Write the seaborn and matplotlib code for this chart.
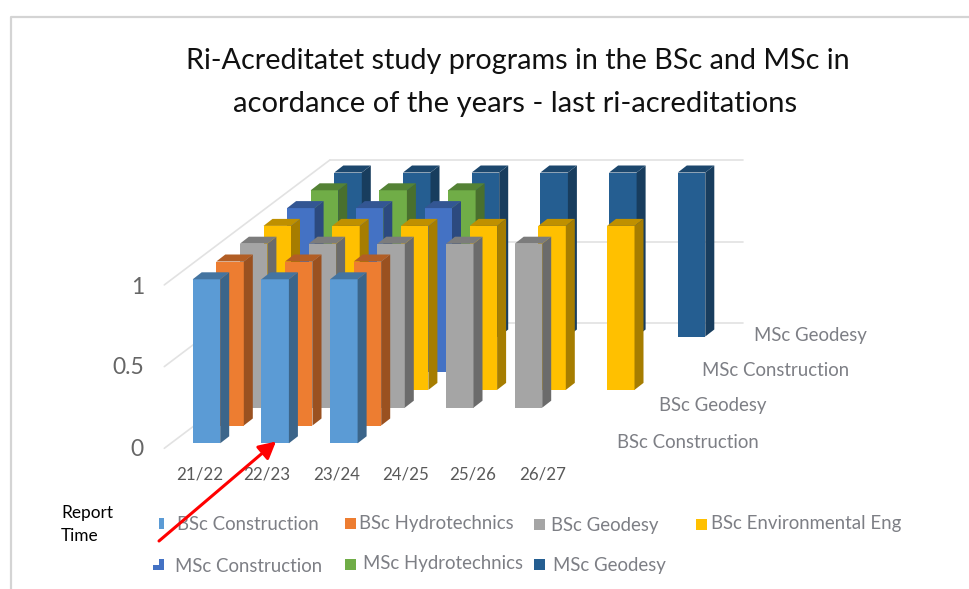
import numpy as np
import pandas as pd
import matplotlib
matplotlib.use('Agg')
import matplotlib.pyplot as plt
import seaborn as sns

# Data
years = ['21/22', '22/23', '23/24', '24/25', '25/26', '26/27']
bsc_construction = [1, 1, 1, 0, 0, 0]
bsc_hydrotechnics = [1, 1, 1, 0, 0, 0]
bsc_geodesy = [1, 1, 1, 1, 1, 0]
bsc_environmental = [1, 1, 1, 1, 1, 1]
msc_construction = [1, 1, 1, 0, 0, 0]
msc_hydrotechnics = [1, 1, 1, 0, 0, 0]
msc_geodesy = [1, 1, 1, 1, 1, 1]

series_names = ['BSc Construction', 'BSc Hydrotechnics', 'BSc Geodesy', 'BSc Environmental Eng',
                'MSc Construction', 'MSc Hydrotechnics', 'MSc Geodesy']
series_values = [bsc_construction, bsc_hydrotechnics, bsc_geodesy, bsc_environmental,
                 msc_construction, msc_hydrotechnics, msc_geodesy]
colors = ['#5B9BD5', '#ED7D31', '#A5A5A5', '#FFC000', '#4472C4', '#70AD47', '#255E91']
value_ticks = [0, 0.5, 1]

# Layout in picture pixels
W, H = 970, 589
year_step = 68.7
bar_px = 27.5
bar_height = 164
depth_dx, depth_dy = 23.6, 17.8
side_dx, side_dy = 9, 7
grey_text = '#7d7f85'

sns.set_theme(style='white')
plt.rcParams['font.family'] = ['Lato', 'DejaVu Sans']

fig = plt.figure(figsize=(W / 100, H / 100), dpi=100)


def px_axes(left, top, right, bottom):
    return fig.add_axes([left / W, 1 - bottom / H, (right - left) / W, (bottom - top) / H])


def overlay(zorder):
    o = fig.add_axes([0, 0, 1, 1], zorder=zorder)
    o.set_xlim(0, W)
    o.set_ylim(H, 0)
    o.axis('off')
    return o


# Side wall edge, behind the bars
under = overlay(-1)
for v in value_ticks:
    y_wall = 323.3 - v * 163.4
    under.plot([330, 164.3], [y_wall, y_wall + 125], color='#e2e2e2', lw=1.2)

# Back wall with gridlines
wall = px_axes(330, 160, 743, 323.3)
wall.set_xlim(0, 1)
wall.set_ylim(0, 1)
wall.set_yticks(value_ticks)
wall.set_xticks([])
wall.set_yticklabels([])
wall.grid(axis='y', color='#e2e2e2', lw=1.2, clip_on=False)
wall.tick_params(left=False)
sns.despine(ax=wall, left=True, bottom=True)
wall.patch.set_alpha(0)

# One transparent axes per series, moved back along the depth direction
for i in reversed(range(len(series_names))):
    left = 192.7 + bar_px / 2 - year_step / 2 + i * depth_dx
    bottom = 443.3 - i * depth_dy
    ax = px_axes(left, bottom - bar_height, left + 6 * year_step, bottom)
    df = pd.DataFrame({'year': years, 'value': series_values[i]})
    sns.barplot(data=df, x='year', y='value', order=years, color=colors[i], saturation=1,
                width=bar_px / year_step, linewidth=0, ax=ax)
    rgb = np.array(matplotlib.colors.to_rgb(colors[i]))
    dx = side_dx / year_step
    dy = side_dy / bar_height
    for bar in list(ax.patches):
        h = bar.get_height()
        if h <= 0:
            continue
        x0 = bar.get_x()
        x1 = x0 + bar.get_width()
        ax.fill([x1, x1 + dx, x1 + dx, x1], [0, dy, h + dy, h], color=rgb * 0.65, lw=0, clip_on=False)
        ax.fill([x0, x1, x1 + dx, x0 + dx], [h, h, h + dy, h + dy], color=rgb * 0.75, lw=0, clip_on=False)
    ax.set_xlim(-0.5, 5.5)
    ax.set_ylim(0, 1)
    ax.axis('off')

# Overlay in pixels for texts, frame, arrow and legend
over = overlay(10)

over.plot([11, 11, W], [H, 17, 17], color='#d4d4d4', lw=1.6)

over.text(518, 61, 'Ri-Acreditatet study programs in the BSc and MSc in', fontsize=20.7,
          color='#111111', ha='center', va='center')
over.text(515, 104, 'acordance of the years - last ri-acreditations', fontsize=21,
          color='#111111', ha='center', va='center')

for v, y in zip(value_ticks, [450, 367, 287]):
    over.text(144, y, f'{v:g}', fontsize=16.5, color='#666666', ha='right', va='center')

year_centers = [200, 267, 337, 406, 473, 543]
for label, x in zip(years, year_centers):
    over.text(x, 474, label, fontsize=12.2, color='#595959', ha='center', va='center')

depth_labels = ['BSc Construction', 'BSc Geodesy', 'MSc Construction', 'MSc Geodesy']
depth_x = [617, 659, 702, 754]
depth_y = [442, 405, 370, 335]
for label, x, y in zip(depth_labels, depth_x, depth_y):
    over.text(x, y, label, fontsize=13.4, color=grey_text, ha='left', va='center')

over.text(61, 513, 'Report', fontsize=12.4, color='black', va='center')
over.text(61, 536, 'Time', fontsize=12.4, color='black', va='center')

# Legend entries sit in uneven places in the original
legend_box = [(159, 518, 5.5), (345, 518, 11), (534, 519, 11), (696, 519, 11),
              (153, 559, 11), (345, 559, 11), (534, 559, 11)]
legend_text = [(177, 525), (359, 524), (551, 525), (711, 524), (175, 567), (363, 564), (553, 566)]
for name, color, (bx, by, bw), (tx, ty) in zip(series_names, colors, legend_box, legend_text):
    over.fill([bx, bx + bw, bx + bw, bx], [by, by, by + 11, by + 11], color=color, lw=0)
    over.text(tx, ty, name, fontsize=13.4, color=grey_text, ha='left', va='center')
# the MSc Construction key is cut at its top left corner
over.fill([153, 159, 159, 153], [559, 559, 565, 565], color='white', lw=0)

over.annotate('', xy=(276, 441.5), xytext=(159, 541),
              arrowprops=dict(arrowstyle='-|>,head_length=0.85,head_width=0.45', color='#ff0000',
                              lw=2.2, shrinkA=0, shrinkB=0))

fig.savefig('out.png', dpi=100)
